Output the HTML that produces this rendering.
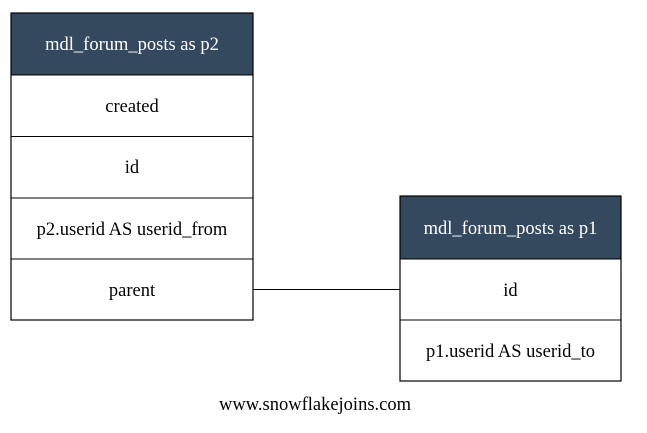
<!DOCTYPE html>
<html><head><style>body{margin:0;background:#fff} text{font-family:"Liberation Serif",serif;font-size:18.5px}</style></head><body>
<svg width="647" height="428" xmlns="http://www.w3.org/2000/svg" text-anchor="middle">
<rect x="0" y="0" width="647" height="428" fill="#fff"/>
<rect x="11" y="13" width="242" height="62" fill="#34495e"/>
<rect x="11" y="13" width="242" height="307" fill="none" stroke="#000" stroke-width="1.2"/>
<line x1="11" y1="75" x2="253" y2="75" stroke="#000"/>
<line x1="11" y1="136.5" x2="253" y2="136.5" stroke="#000"/>
<line x1="11" y1="198" x2="253" y2="198" stroke="#000"/>
<line x1="11" y1="259" x2="253" y2="259" stroke="#000"/>
<text x="132" y="50" fill="#fff">mdl_forum_posts as p2</text>
<text x="132" y="112">created</text>
<text x="132" y="173">id</text>
<text x="132" y="235">p2.userid AS userid_from</text>
<text x="132" y="296">parent</text>
<line x1="253" y1="289.5" x2="400" y2="289.5" stroke="#000"/>
<rect x="400" y="196" width="221" height="63" fill="#34495e"/>
<rect x="400" y="196" width="221" height="185" fill="none" stroke="#000" stroke-width="1.2"/>
<line x1="400" y1="259" x2="621" y2="259" stroke="#000"/>
<line x1="400" y1="320" x2="621" y2="320" stroke="#000"/>
<text x="510.5" y="234" fill="#fff">mdl_forum_posts as p1</text>
<text x="510.5" y="296">id</text>
<text x="510.5" y="357">p1.userid AS userid_to</text>
<text x="315" y="410">www.snowflakejoins.com</text>
</svg>
</body></html>
